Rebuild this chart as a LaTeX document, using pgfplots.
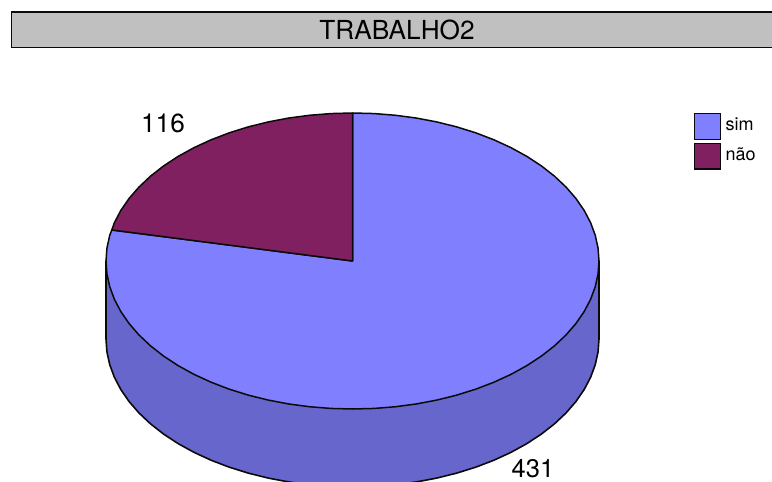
\documentclass[border=0pt]{standalone}
\usepackage{fontspec}
\setmainfont{TeX Gyre Heros}
\usepackage{pgfplots}
\pgfplotsset{compat=1.18}
\definecolor{blueF}{HTML}{8080FF}
\definecolor{blueS}{HTML}{6666CC}
\definecolor{wine}{HTML}{802060}
\definecolor{band}{HTML}{C0C0C0}
\definecolor{ink}{HTML}{0A0A0A}
\begin{document}
\begin{tikzpicture}[x=1pt,y=1pt]
\path[use as bounding box] (0,0) rectangle (772,482);
\begin{axis}[
  at={(0,0)},anchor=south west,
  scale only axis,width=772pt,height=482pt,
  xmin=0,xmax=772,ymin=0,ymax=482,y dir=reverse,
  hide axis,clip=true]
% title band
\addplot[draw=ink,line width=1.5pt,fill=band] coordinates {(11.5,12)(790,12)(790,47.3)(11.5,47.3)} -- cycle;
% side wall
\addplot[draw=ink,line width=1.6pt,fill=blueS,line join=round] coordinates {
(599,261)(599,339)(598.06,351.90)(595.26,364.70)(590.60,377.31)(584.13,389.62)(575.91,401.55)(565.98,413)(554.42,423.89)(541.33,434.13)(526.80,443.65)(510.95,452.37)(493.89,460.23)(475.75,467.17)(456.68,473.13)(436.81,478.07)(416.30,481.96)(395.31,484.75)(373.98,486.44)(352.5,487)
(331.02,486.44)(309.69,484.75)(288.70,481.96)(268.19,478.07)(248.32,473.13)(229.25,467.17)(211.11,460.23)(194.05,452.37)(178.20,443.65)(163.67,434.13)(150.58,423.89)(139.02,413)(129.09,401.55)(120.87,389.62)(114.40,377.31)(109.74,364.70)(106.94,351.90)(106,339)(106,261)} -- cycle;
% share: sim 431
\addplot[draw=ink,line width=1.5pt,fill=blueF,line join=round] coordinates {
(352.5,261)(352.5,113)(373.98,113.56)(395.31,115.25)(416.30,118.04)(436.81,121.93)(456.68,126.87)(475.75,132.83)(493.89,139.77)(510.95,147.63)(526.80,156.35)(541.33,165.87)(554.42,176.11)(565.98,187)(575.91,198.45)(584.13,210.38)(590.60,222.69)(595.26,235.30)(598.06,248.10)(599,261)
(598.06,273.90)(595.26,286.70)(590.60,299.31)(584.13,311.62)(575.91,323.55)(565.98,335)(554.42,345.89)(541.33,356.13)(526.80,365.65)(510.95,374.37)(493.89,382.23)(475.75,389.17)(456.68,395.13)(436.81,400.07)(416.30,403.96)(395.31,406.75)(373.98,408.44)(352.5,409)
(331.02,408.44)(309.69,406.75)(288.70,403.96)(268.19,400.07)(248.32,395.13)(229.25,389.17)(211.11,382.23)(194.05,374.37)(178.20,365.65)(163.67,356.13)(150.58,345.89)(139.02,335)(129.09,323.55)(120.87,311.62)(114.40,299.31)(109.74,286.70)(106.94,273.90)(106,261)(106.94,248.10)(109.74,235.30)(111.8,230)} -- cycle;
% share: nao 116
\addplot[draw=ink,line width=1.5pt,fill=wine,line join=round] coordinates {
(352.5,261)(111.8,230)(114.40,222.69)(120.87,210.38)(129.09,198.45)(139.02,187)(150.58,176.11)(163.67,165.87)(178.20,156.35)(194.05,147.63)(211.11,139.77)(229.25,132.83)(248.32,126.87)(268.19,121.93)(288.70,118.04)(309.69,115.25)(331.02,113.56)(352.5,113)} -- cycle;
% legend swatches
\addplot[draw=ink,line width=1.6pt,fill=blueF] coordinates {(694.5,113.5)(720.5,113.5)(720.5,139.5)(694.5,139.5)} -- cycle;
\addplot[draw=ink,line width=1.6pt,fill=wine] coordinates {(694.5,143.5)(720.5,143.5)(720.5,169)(694.5,169)} -- cycle;
% texts
\node[font=\fontsize{26.2}{26}\selectfont,anchor=center,inner sep=0pt] at (axis cs:397,30) {TRABALHO2};
\node[font=\fontsize{26.2}{26}\selectfont,anchor=center,inner sep=0pt] at (axis cs:163,123.5) {116};
\node[font=\fontsize{25.5}{26}\selectfont,anchor=center,inner sep=0pt] at (axis cs:533,469) {431};
\node[font=\fontsize{18}{18}\selectfont,anchor=west,inner sep=0pt] at (axis cs:725.5,124.5) {sim};
\node[font=\fontsize{18}{18}\selectfont,anchor=west,inner sep=0pt] at (axis cs:725.5,154.5) {não};
\end{axis}
\end{tikzpicture}
\end{document}
